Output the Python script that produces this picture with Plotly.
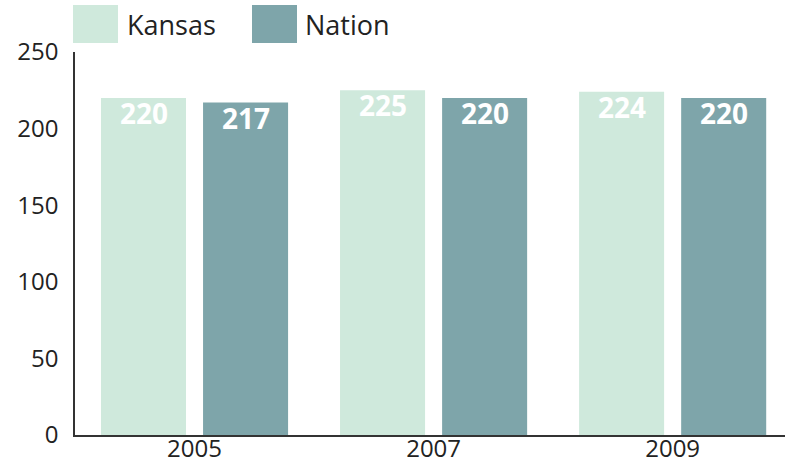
import plotly.graph_objects as go

years = ["2005", "2007", "2009"]
kansas = [220, 225, 224]
nation = [217, 220, 220]
series_names = ["Kansas", "Nation"]
colors = ["#cfe9dc", "#7ea5aa"]

font_fam = "Open Sans, DejaVu Sans, sans-serif"

fig = go.Figure()
series = [kansas, nation]
shifts = [-51, 51]
for name, vals, col, sh in zip(series_names, series, colors, shifts):
    fig.add_trace(go.Bar(
        x=years, y=vals, name=name, marker=dict(color=col, line=dict(width=0)),
        showlegend=False, hoverinfo="x+y+name",
    ))
    for i, v in enumerate(vals):
        fig.add_annotation(x=i, y=v, xref="x", yref="y", text="<b>%d</b>" % v,
                           showarrow=False, xanchor="center", yanchor="top",
                           xshift=sh, yshift=6,
                           font=dict(size=28, color="white", family=font_fam))

# legend drawn as swatches + labels (paper coordinates)
L, R, T, B = 75, 0, 52, 28
PW, PH = 785 - L - R, 463 - T - B
legend_items = [("Kansas", colors[0], 73, 125), ("Nation", colors[1], 252, 303)]
for name, col, sx, tx in legend_items:
    fig.add_shape(type="rect", xref="paper", yref="paper",
                  x0=(sx - L) / PW, x1=(sx + 45 - L) / PW,
                  y0=(463 - B - 43) / PH, y1=(463 - B - 5) / PH,
                  line=dict(width=0), fillcolor=col)
    fig.add_annotation(xref="paper", yref="paper", x=(tx - L) / PW, y=(463 - B - 24) / PH,
                       text=name, showarrow=False, xanchor="left", yanchor="middle",
                       font=dict(size=27, color="#222", family=font_fam))

fig.update_layout(
    width=785, height=463,
    margin=dict(l=L, r=R, t=T, b=B, autoexpand=False),
    plot_bgcolor="white", paper_bgcolor="white",
    barmode="group", bargap=0.146, bargroupgap=0.167,
    font=dict(family=font_fam, color="#222"),
    xaxis=dict(type="category", showline=True, linecolor="#333", linewidth=1.5, ticks="",
               tickfont=dict(size=24), showgrid=False, automargin=False,
               range=[-0.5, 2.47], ticklabelstandoff=-9),
    yaxis=dict(range=[0, 250], tickvals=[0, 50, 100, 150, 200, 250],
               showline=True, linecolor="#333", linewidth=1.5, ticks="",
               tickfont=dict(size=24), showgrid=False, zeroline=False,
               ticklabelstandoff=10, automargin=False),
)

fig.write_html("out.html", config={"displayModeBar": False},
               post_script="document.body.style.margin='0';document.body.style.overflow='hidden';")
